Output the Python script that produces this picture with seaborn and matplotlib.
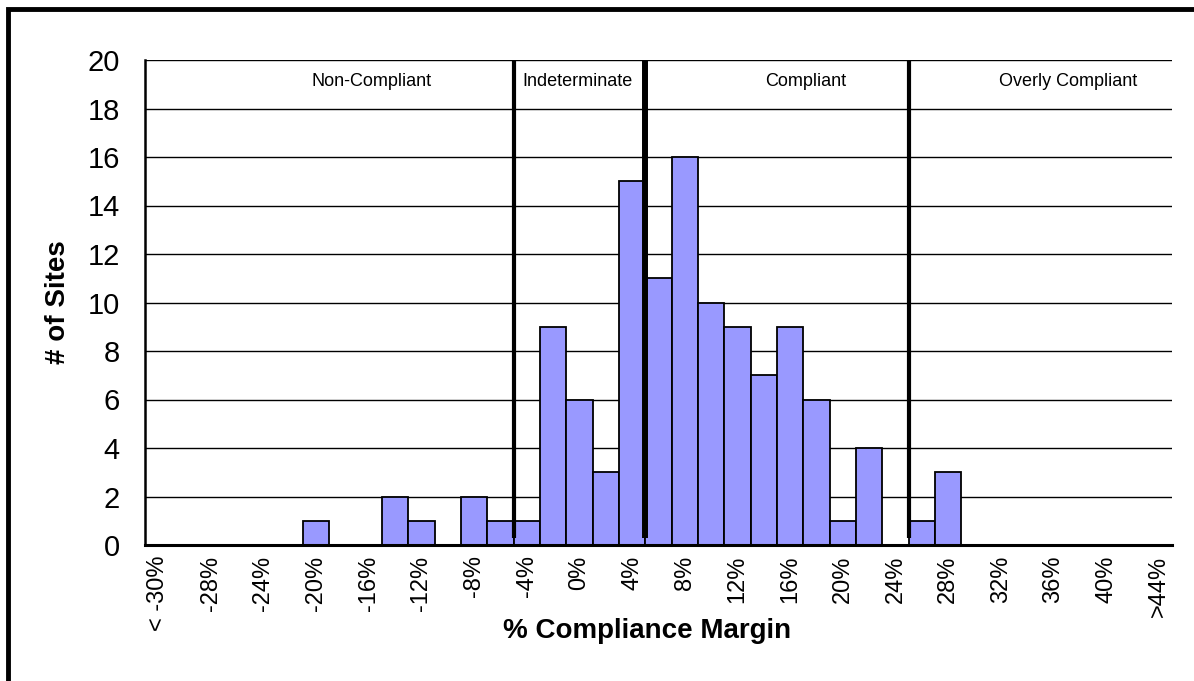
import seaborn as sns
import pandas as pd
import matplotlib.pyplot as plt
from matplotlib.patches import Rectangle

# bins of % compliance margin (2% wide), open-ended at both ends
bins = ['< -30%'] + ['%d%%' % v for v in range(-30, 44, 2)] + ['>44%']
sites = [0, 0, 0, 0, 0, 0, 1, 0, 0, 2,
         1, 0, 2, 1, 1, 9, 6, 3, 15, 11,
         16, 10, 9, 7, 9, 6, 1, 4, 0, 1,
         3, 0, 0, 0, 0, 0, 0, 0, 0]

# zone boundaries (between bins) and zone names
zone_edges = [13.5, 18.5, 28.5]
zone_widths = [3, 4.3, 3]
zone_names = ['Non-Compliant', 'Indeterminate', 'Compliant', 'Overly Compliant']
zone_label_x = [8.1, 15.93, 24.6, 34.55]

df = pd.DataFrame({'bin': bins, 'sites': sites})

sns.set_style('white')
plt.rcParams['font.family'] = ['Liberation Sans', 'DejaVu Sans']
for k in ['text.color', 'axes.labelcolor', 'xtick.color', 'ytick.color']:
    plt.rcParams[k] = 'black'

fig = plt.figure(figsize=(11.94, 6.81), dpi=100)
ax = fig.add_axes([145/1194, 1-545/681, 1027/1194, 485/681])

sns.barplot(data=df, x='bin', y='sites', order=bins, color='#9999FF', saturation=1,
            edgecolor='black', linewidth=1.3, width=1, ax=ax)

ax.set_xlim(-0.5, len(bins) - 0.5)
ax.set_ylim(0, 20)
ax.set_yticks(range(0, 21, 2))
ax.yaxis.grid(True, color='black', linewidth=1)
ax.set_axisbelow(True)

for x, lw in zip(zone_edges, zone_widths):
    ax.plot([x, x], [0.3, 20], color='black', linewidth=lw, solid_capstyle='butt', zorder=5)

for name, x in zip(zone_names, zone_label_x):
    ax.text(x, 19.1, name, ha='center', va='center', fontsize=13, zorder=6)

ax.set_xticks(range(len(bins)))
ax.set_xticklabels([b if i % 2 == 0 else '' for i, b in enumerate(bins)],
                   rotation=90, fontsize=17)
ax.tick_params(axis='x', direction='inout', length=9, width=1.5, pad=3)
ax.tick_params(axis='y', direction='out', length=9, width=1.5, labelsize=21, pad=9)

for s in ['top', 'right']:
    ax.spines[s].set_visible(False)
ax.spines['left'].set_linewidth(1.8)
ax.spines['bottom'].set_linewidth(2.2)
ax.spines['left'].set_color('black')
ax.spines['bottom'].set_color('black')

ax.set_xlabel('% Compliance Margin', fontsize=20, fontweight='bold', va='center')
ax.xaxis.set_label_coords(0.489, -0.177)
ax.set_ylabel('# of Sites', fontsize=20, fontweight='bold', va='center')
ax.yaxis.set_label_coords(-0.085, 0.5)

# chart frame, cut off at the right and bottom edges
fig.patches.append(Rectangle((8/1194, -0.2), 1.3, 1 - 9/681 + 0.2, transform=fig.transFigure,
                             fill=False, edgecolor='black', linewidth=3.5))

fig.savefig('out.png', dpi=100)
